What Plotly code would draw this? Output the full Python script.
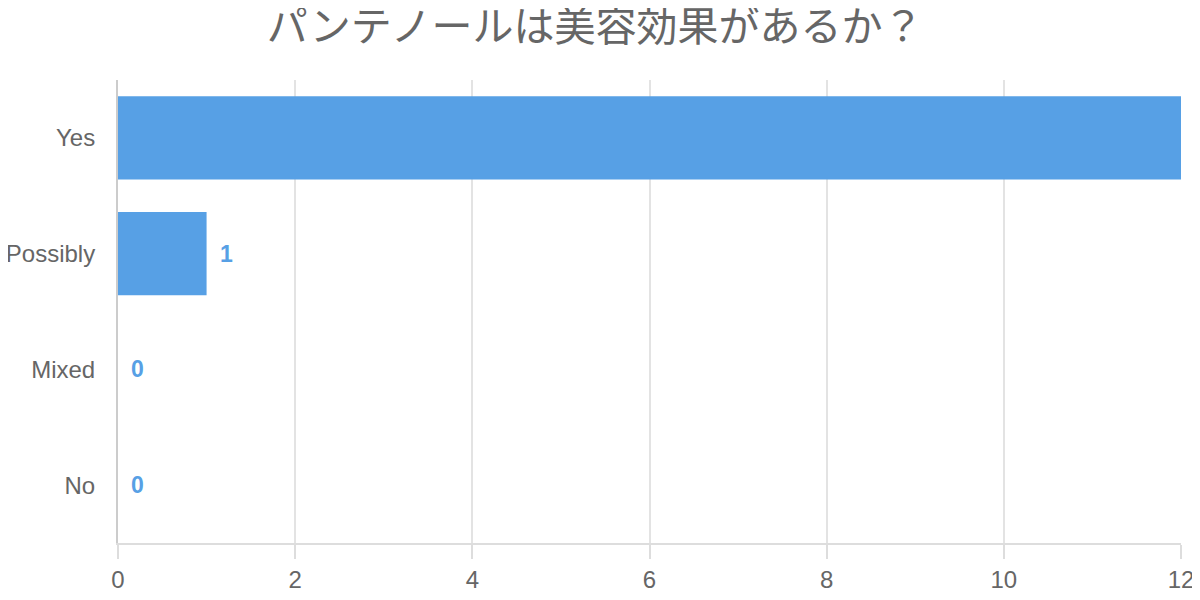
import plotly.graph_objects as go

# data
categories = ['Yes', 'Possibly', 'Mixed', 'No']
counts = [12, 1, 0, 0]
title_text = 'パンテノールは美容効果があるか？'

bar_color = '#57a0e5'
font_family = 'Liberation Sans, Arial, Noto Sans CJK JP, sans-serif'

fig = go.Figure(
    data=[
        go.Bar(
            x=counts,
            y=categories,
            orientation='h',
            marker=dict(color=bar_color, line=dict(width=0)),
            hoverinfo='x+y',
        )
    ]
)

# value labels to the right of each bar
for cat, val in zip(categories, counts):
    fig.add_annotation(
        x=val, y=cat, text='<b>%d</b>' % val,
        showarrow=False, xanchor='left', xshift=11,
        font=dict(family=font_family, size=23, color=bar_color),
    )

# page body has an 8px margin, so the figure is a bit smaller than the window
fig.update_layout(
    width=1192, height=592,
    paper_bgcolor='white', plot_bgcolor='white',
    margin=dict(l=110, r=19, t=72, b=57),
    bargap=0.28,
    showlegend=False,
    title=dict(
        text=title_text, x=0.4925, xanchor='center', y=0.968, yanchor='middle',
        font=dict(family=font_family, size=41, color='#666666'),
    ),
    xaxis=dict(
        range=[0, 12], dtick=2, automargin=False,
        showgrid=True, gridcolor='#e3e3e3', gridwidth=1.5,
        showline=True, linecolor='#dddddd', linewidth=2,
        ticks='outside', ticklen=14, tickcolor='#dddddd', tickwidth=2,
        ticklabelstandoff=0,
        tickfont=dict(family=font_family, size=24, color='#666666'),
        zeroline=False, fixedrange=True,
    ),
    yaxis=dict(
        categoryorder='array', categoryarray=categories, autorange='reversed',
        showgrid=False, automargin=False,
        showline=True, linecolor='#cccccc', linewidth=2,
        ticks='', ticklabelstandoff=16,
        tickfont=dict(family=font_family, size=24, color='#666666'),
        fixedrange=True,
    ),
)

fig.write_html("out.html")
